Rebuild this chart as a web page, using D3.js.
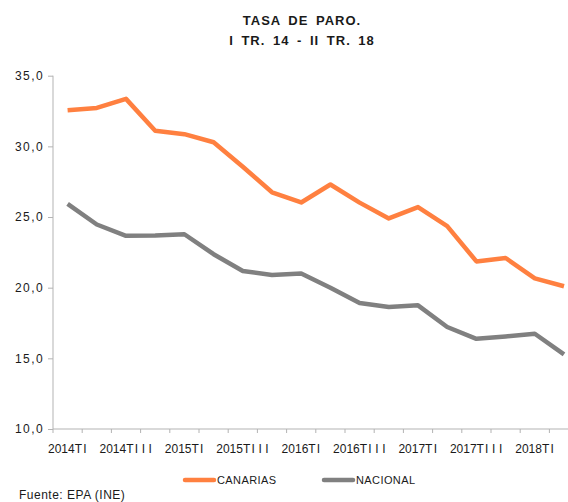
<!DOCTYPE html>
<html>
<head>
<meta charset="utf-8">
<script src="https://cdn.jsdelivr.net/npm/d3@7"></script>
<style>
  body { margin: 0; background: #fff; }
  svg text { font-family: "Liberation Sans", Arial, sans-serif; fill: #1a1a1a; }
</style>
</head>
<body>
<div id="chart"></div>
<script>
var width = 568;
var height = 502;

var quarters = ["2014TI", "2014TII", "2014TIII", "2014TIV",
  "2015TI", "2015TII", "2015TIII", "2015TIV",
  "2016TI", "2016TII", "2016TIII", "2016TIV",
  "2017TI", "2017TII", "2017TIII", "2017TIV",
  "2018TI", "2018TII"];

var canarias = [32.55, 32.72, 33.36, 31.10, 30.86, 30.29, 28.56, 26.75,
  26.03, 27.30, 26.02, 24.90, 25.70, 24.36, 21.86, 22.10, 20.66, 20.10];

var nacional = [25.93, 24.47, 23.67, 23.70, 23.78, 22.37, 21.18, 20.90,
  21.00, 20.00, 18.91, 18.63, 18.75, 17.22, 16.38, 16.55, 16.74, 15.28];

var yTicks = [10, 15, 20, 25, 30, 35];
var seriesNames = ["CANARIAS", "NACIONAL"];
var seriesColors = ["#ff8040", "#808080"];

var svg = d3.select("#chart")
  .append("svg")
  .attr("width", width)
  .attr("height", height);

// band scale, chart is cut off at the right edge like the original
var x = d3.scaleBand()
  .domain(quarters)
  .range([53, 53 + 18 * 29.2]);

var y = d3.scaleLinear()
  .domain([10, 35])
  .range([429, 75.7]);

// title
svg.append("text")
  .attr("x", 302).attr("y", 25)
  .attr("text-anchor", "middle")
  .style("font-size", "13px")
  .style("font-weight", "bold")
  .style("letter-spacing", "1px")
  .style("word-spacing", "3px")
  .text("TASA DE PARO.");

svg.append("text")
  .attr("x", 302).attr("y", 45)
  .attr("text-anchor", "middle")
  .style("font-size", "13px")
  .style("font-weight", "bold")
  .style("letter-spacing", "1px")
  .style("word-spacing", "3px")
  .text("I TR. 14 - II TR. 18");

// y axis
var yAxis = svg.append("g")
  .attr("transform", "translate(53,0)")
  .call(d3.axisLeft(y)
    .tickValues(yTicks)
    .tickSize(5)
    .tickPadding(4)
    .tickFormat(function (d) { return d3.format(".1f")(d).replace(".", ","); }));

// x axis, ticks between categories
var xAxis = svg.append("g")
  .attr("transform", "translate(0,429)");

xAxis.append("line")
  .attr("x1", x.range()[0]).attr("x2", x.range()[1])
  .attr("stroke", "#b3b3b3");

xAxis.selectAll(".tk")
  .data(quarters)
  .enter()
  .append("line")
  .attr("class", "tk")
  .attr("x1", function (d) { return x(d); })
  .attr("x2", function (d) { return x(d); })
  .attr("y1", 0).attr("y2", 4)
  .attr("stroke", "#b3b3b3");

var lbl = xAxis.selectAll(".lbl")
  .data(quarters.filter(function (d, i) { return i % 2 == 0; }))
  .enter()
  .append("text")
  .attr("class", "lbl")
  .attr("x", function (d) { return x(d) + x.bandwidth() / 2 + 1.5; })
  .attr("y", 24)
  .attr("text-anchor", "middle")
  .style("font-size", "12px");

// year, then the roman quarter which is spaced out in the original
lbl.append("tspan")
  .style("letter-spacing", "0px")
  .text(function (d) { return d.slice(0, 4); });
lbl.append("tspan")
  .style("letter-spacing", "1.2px")
  .text("T");
lbl.append("tspan")
  .style("letter-spacing", "3.6px")
  .text(function (d) { return d.slice(5); });

yAxis.select(".domain").attr("stroke", "#b3b3b3").attr("d", "M0,75.7V429");
yAxis.selectAll(".tick line").attr("stroke", "#b3b3b3");
yAxis.selectAll(".tick text")
  .style("font-size", "12px")
  .style("letter-spacing", "1.4px")
  .style("font-family", "Liberation Sans, Arial, sans-serif")
  .attr("fill", "#1a1a1a");

var line = d3.line()
  .x(function (d, i) { return x(quarters[i]) + x.bandwidth() / 2; })
  .y(function (d) { return y(d); });

[canarias, nacional].forEach(function (s, k) {
  svg.append("path")
    .datum(s)
    .attr("d", line)
    .attr("fill", "none")
    .attr("stroke", seriesColors[k])
    .attr("stroke-width", 4.5)
    .attr("stroke-linejoin", "round");
});

// legend
var legendX = [185, 324];
var legend = svg.selectAll(".legend")
  .data(seriesNames)
  .enter()
  .append("g")
  .attr("class", "legend")
  .attr("transform", function (d, i) { return "translate(" + legendX[i] + ",480)"; });

legend.append("line")
  .attr("x1", 0).attr("x2", 29)
  .attr("stroke", function (d, i) { return seriesColors[i]; })
  .attr("stroke-width", 4.5)
  .attr("stroke-linecap", "round");

legend.append("text")
  .attr("x", 32).attr("y", 4)
  .style("font-size", "11px")
  .style("letter-spacing", "0.4px")
  .text(function (d) { return d; });

svg.append("text")
  .attr("x", 19).attr("y", 499)
  .style("font-size", "12px")
  .style("letter-spacing", "0.5px")
  .text("Fuente: EPA (INE)");
</script>
</body>
</html>
